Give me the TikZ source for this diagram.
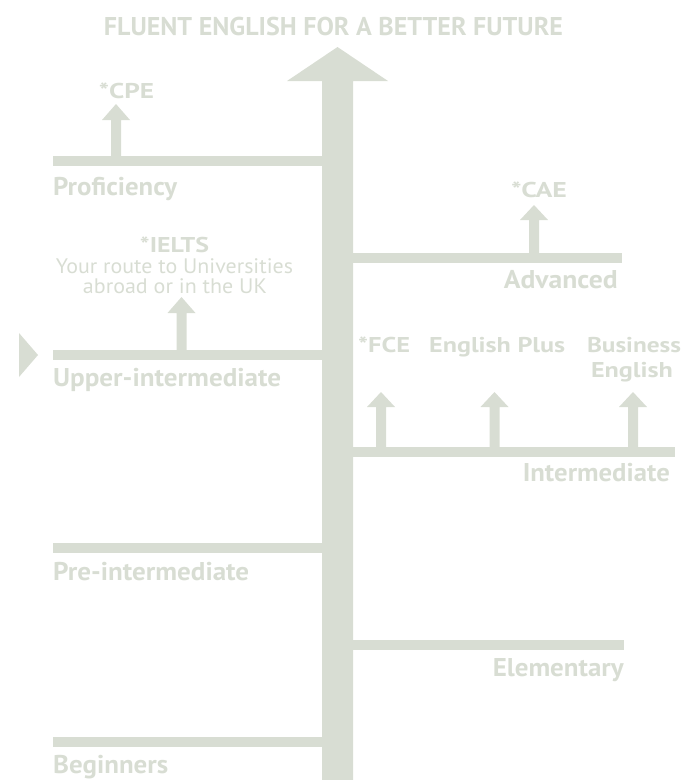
\documentclass[tikz,border=0pt]{standalone}
\usepackage{fontspec}
\usepackage{graphicx}
\setmainfont{PT Sans}
\definecolor{sage}{HTML}{D8DDD3}
\newcommand{\fw}[2]{\resizebox{#1pt}{\height}{#2}}
\tikzset{
  lvl/.style={inner sep=0pt, text=sage, font=\bfseries\fontsize{25.7}{30}\selectfont},
  crs/.style={inner sep=0pt, text=sage, font=\bfseries\fontsize{21.4}{26}\selectfont},
  ttl/.style={inner sep=0pt, text=sage, font=\bfseries\fontsize{25.7}{30}\selectfont},
  sub/.style={inner sep=0pt, text=sage, font=\fontsize{21}{24}\selectfont},
  barfill/.style={fill=sage},
}
\begin{document}
\begin{tikzpicture}[x=1pt,y=-1pt]
\useasboundingbox (0,0) rectangle (694,780);
% trunk with arrowhead
\fill[barfill] (322,780) -- (322,81) -- (287,81) -- (337.5,47) -- (388,81) -- (353,81) -- (353,780) -- cycle;
% level bars
\fill[barfill] (53,156) rectangle (322,166);
\fill[barfill] (353,253) rectangle (622,263);
\fill[barfill] (53,350) rectangle (322,360);
\fill[barfill] (353,447) rectangle (675,457);
\fill[barfill] (53,543) rectangle (322,553);
\fill[barfill] (353,640) rectangle (624,650);
\fill[barfill] (53,737) rectangle (322,747);
% small arrows (centre x, tip y, base y of head, bar y)
\foreach \cx/\tip/\hb/\by in {116/104/120/156, 534/205/220/253, 181.5/297/313/350, 381/392/407/447, 494.5/392/407/447, 633/392/407/447}{
  \fill[barfill] (\cx-5,\by) -- (\cx-5,\hb) -- (\cx-14,\hb) -- (\cx,\tip) -- (\cx+14,\hb) -- (\cx+5,\hb) -- (\cx+5,\by) -- cycle;
}
% side marker
\fill[barfill] (19,333) -- (38,355) -- (19,377) -- cycle;
% texts
\node[ttl, anchor=base] (title) at (333.5,35) {\fw{459}{FLUENT ENGLISH FOR A BETTER FUTURE}};
\node[crs, anchor=base] (cpe) at (126.5,98) {\fw{55}{*CPE}};
\node[lvl, anchor=base west] (prof) at (53,195) {\fw{124}{Proficiency}};
\node[crs, anchor=base] (cae) at (539,197) {\fw{56}{*CAE}};
\node[lvl, anchor=base east] (adv) at (618,288) {\fw{114}{Advanced}};
\node[crs, anchor=base] (ielts) at (174.5,252) {\fw{69}{*IELTS}};
\node[sub, anchor=base] (route1) at (174.5,273) {\fw{237}{Your route to Universities}};
\node[sub, anchor=base] (route2) at (175,293) {\fw{184}{abroad or in the UK}};
\node[lvl, anchor=base west] (upper) at (53,386) {\fw{228}{Upper-intermediate}};
\node[crs, anchor=base west] (fce) at (358,352) {\fw{52}{*FCE}};
\node[crs, anchor=base west] (eplus) at (429,352) {\fw{136}{English Plus}};
\node[crs, anchor=base] (bus1) at (634,352) {\fw{94}{Business}};
\node[crs, anchor=base] (bus2) at (632,377) {\fw{82}{English}};
\node[lvl, anchor=base east] (inter) at (670,481) {\fw{147}{Intermediate}};
\node[lvl, anchor=base west] (pre) at (53,580) {\fw{196}{Pre-intermediate}};
\node[lvl, anchor=base east] (elem) at (624,676) {\fw{131}{Elementary}};
\node[lvl, anchor=base west] (beg) at (53,773) {\fw{115}{Beginners}};
\end{tikzpicture}
\end{document}
